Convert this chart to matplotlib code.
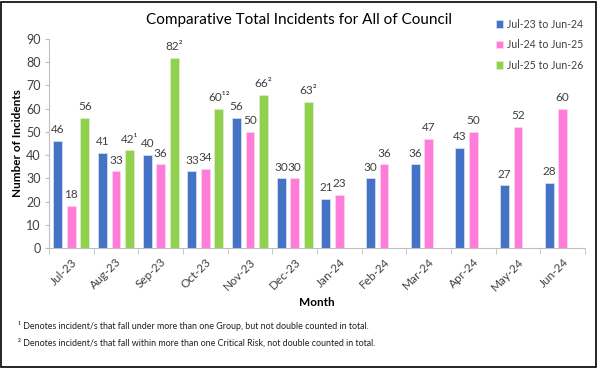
import numpy as np
import matplotlib.pyplot as plt
from matplotlib.patches import Rectangle

plt.rcParams['font.family'] = ['Lato', 'DejaVu Sans']

# Daten aus dem Diagramm
months = ['Jul-23', 'Aug-23', 'Sep-23', 'Oct-23', 'Nov-23', 'Dec-23',
          'Jan-24', 'Feb-24', 'Mar-24', 'Apr-24', 'May-24', 'Jun-24']
series_names = ['Jul-23 to Jun-24', 'Jul-24 to Jun-25', 'Jul-25 to Jun-26']
fy24 = [46, 41, 40, 33, 56, 30, 21, 30, 36, 43, 27, 28]
fy25 = [18, 33, 36, 34, 50, 30, 23, 36, 47, 50, 52, 60]
fy26 = [56, 42, 82, 60, 66, 63]
fy26_notes = ['', '¹', '²', '¹²', '²', '²']
yticks = [0, 10, 20, 30, 40, 50, 60, 70, 80, 90]

colors = ['#4472C4', '#FF7DD9', '#92D050']
text_col = '#404040'

fig = plt.figure(figsize=(5.99, 3.68), dpi=100)
ax = fig.add_axes([0.0818, 0.326, 0.8948, 0.568])

x = np.arange(len(months))
w = 0.2
off = 0.3
b1 = ax.bar(x - off, fy24, w, color=colors[0], edgecolor='#DCE4F4',
            linewidth=0.5, label=series_names[0])
b2 = ax.bar(x, fy25, w, color=colors[1], edgecolor='#FFD6F2',
            linewidth=0.5, label=series_names[1])
x3 = np.arange(len(fy26))
b3 = ax.bar(x3 + off, fy26, w, color=colors[2], edgecolor='#DDF0CB',
            linewidth=0.5, label=series_names[2])

# Datenbeschriftungen
for xs, vals in [(x - off, fy24), (x, fy25)]:
    for xi, v in zip(xs, vals):
        ax.text(xi, v + 2.5, str(v), ha='center', va='bottom',
                fontsize=8.5, color=text_col)
for xi, v, n in zip(x3 + off, fy26, fy26_notes):
    ax.text(xi, v + 2.5, str(v) + n, ha='center', va='bottom',
            fontsize=8.5, color=text_col)

ax.set_xlim(-0.5, len(months) - 0.5)
ax.set_ylim(0, 90)
ax.set_yticks(yticks)
ax.tick_params(axis='y', labelsize=9, colors='#BFBFBF', labelcolor=text_col,
               length=3, pad=3)
ax.set_xticks(x)
ax.set_xticklabels(months, rotation=45, ha='right', rotation_mode='anchor',
                   fontsize=8.5, color=text_col)
ax.tick_params(axis='x', which='major', length=0, pad=6)
ax.set_xticks(np.arange(len(months) + 1) - 0.5, minor=True)
ax.tick_params(axis='x', which='minor', length=4, color='#BFBFBF')

for s in ['top', 'right']:
    ax.spines[s].set_visible(False)
for s in ['left', 'bottom']:
    ax.spines[s].set_color('#BFBFBF')

ax.set_ylabel('Number of Incidents', fontsize=8.5, fontweight='bold',
              labelpad=2)
ax.set_xlabel('Month', fontsize=8.5, fontweight='bold', labelpad=3)

fig.text(0.5, 0.945, 'Comparative Total Incidents for All of Council',
         ha='center', va='center', fontsize=11)

leg = fig.legend(handles=[b1, b2, b3], loc='upper left',
                 bbox_to_anchor=(0.812, 0.975), frameon=False, fontsize=7.6,
                 handlelength=0.7, handleheight=0.7, handletextpad=0.4,
                 labelspacing=0.9)
for t in leg.get_texts():
    t.set_color(text_col)

fig.text(0.03, 0.114, '¹ Denotes incident/s that fall under more than one '
         'Group, but not double counted in total.', fontsize=6.4,
         color='#202020', va='center')
fig.text(0.03, 0.068, '² Denotes incident/s that fall within more than one '
         'Critical Risk, not double counted in total.', fontsize=6.4,
         color='#202020', va='center')

# Rahmen um die Grafik
fig.patches.append(Rectangle((0.002, 0.004), 0.993, 0.99,
                             transform=fig.transFigure, fill=False,
                             edgecolor='black', linewidth=1.2))

fig.savefig('out.png', dpi=100)
